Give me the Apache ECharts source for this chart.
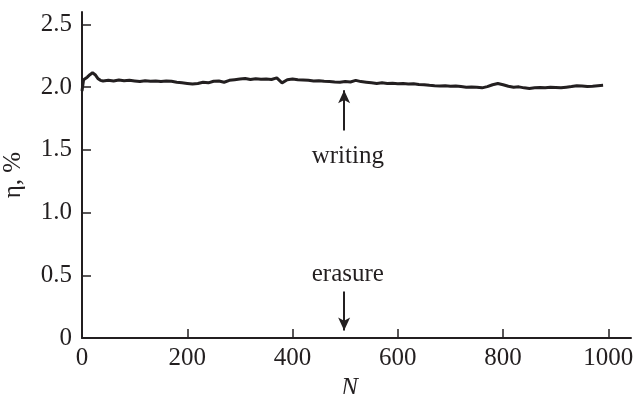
<!DOCTYPE html>
<html>
<head>
<meta charset="utf-8">
<script src="https://cdn.jsdelivr.net/npm/echarts@6/dist/echarts.min.js"></script>
<style>
  html, body { margin: 0; padding: 0; background: #fff; }
  #chart { width: 636px; height: 394px; }
</style>
</head>
<body>
<div id="chart"></div>
<script>
// Diffraction efficiency over repeated writing/erasure cycles
const cycleN = [0, 3, 10, 15, 20, 25, 30, 35, 40, 50, 60, 70, 80, 90, 100, 110, 120, 130, 140, 150,
  160, 170, 180, 190, 200, 210, 220, 230, 240, 250, 260, 270, 280, 290, 300, 310, 320, 330, 340, 350,
  360, 370, 380, 390, 400, 410, 420, 430, 440, 450, 460, 470, 480, 490, 500, 510, 520, 530, 540, 550,
  560, 570, 580, 590, 600, 610, 620, 630, 640, 650, 660, 670, 680, 690, 700, 710, 720, 730, 740, 750,
  760, 770, 780, 790, 800, 810, 820, 830, 840, 850, 860, 870, 880, 890, 900, 910, 920, 930, 940, 950,
  960, 970, 980, 990];
const eta = [1.97, 2.06, 2.08, 2.10, 2.115, 2.10, 2.07, 2.055, 2.05, 2.055, 2.05, 2.058, 2.052, 2.055, 2.05, 2.045, 2.052, 2.048, 2.05, 2.045,
  2.05, 2.047, 2.04, 2.035, 2.03, 2.025, 2.03, 2.04, 2.035, 2.048, 2.05, 2.04, 2.055, 2.06, 2.065, 2.07, 2.062, 2.068, 2.063, 2.065,
  2.062, 2.075, 2.035, 2.06, 2.065, 2.06, 2.058, 2.055, 2.05, 2.052, 2.048, 2.045, 2.042, 2.04, 2.045, 2.042, 2.055, 2.045, 2.04, 2.035,
  2.03, 2.035, 2.03, 2.032, 2.028, 2.03, 2.025, 2.028, 2.022, 2.02, 2.015, 2.012, 2.01, 2.012, 2.008, 2.01, 2.005, 2.0, 2.002, 2.0,
  1.995, 2.005, 2.02, 2.03, 2.02, 2.008, 2.0, 2.003, 1.995, 1.99, 1.995, 1.998, 1.995, 2.0, 1.998, 1.995, 2.0, 2.005, 2.012, 2.01,
  2.005, 2.008, 2.012, 2.015];

const xTicks = [0, 200, 400, 600, 800, 1000];
const yTicks = [0, 0.5, 1.0, 1.5, 2.0, 2.5];

const ink = '#231f20';
const serif = '"Liberation Serif", "DejaVu Serif", serif';
const fs = 25;

const chart = echarts.init(document.getElementById('chart'), null, { renderer: 'canvas' });

chart.setOption({
  animation: false,
  backgroundColor: '#fff',
  grid: { left: 82, right: 5, top: 12, bottom: 56, containLabel: false, outerBoundsMode: 'none' },
  xAxis: {
    type: 'value',
    min: 0,
    max: 1043,
    name: 'N',
    nameLocation: 'middle',
    nameGap: 35,
    nameTextStyle: { fontFamily: serif, fontStyle: 'italic', fontSize: fs, color: ink, padding: [0, 14, 0, 0] },
    axisLine: { show: true, lineStyle: { color: ink, width: 2 } },
    axisTick: { show: true, inside: true, length: 9, customValues: xTicks, lineStyle: { color: ink, width: 1.5 } },
    axisLabel: {
      customValues: xTicks, margin: 8, fontFamily: serif, fontSize: fs, color: ink,
      formatter: v => String(v)
    },
    splitLine: { show: false }
  },
  yAxis: {
    type: 'value',
    min: 0,
    max: 2.6,
    name: 'η, %',
    nameLocation: 'middle',
    nameGap: 56,
    nameTextStyle: { fontFamily: serif, fontSize: fs, color: ink },
    axisLine: { show: true, lineStyle: { color: ink, width: 2 } },
    axisTick: { show: true, inside: true, length: 9, customValues: yTicks, lineStyle: { color: ink, width: 1.5 } },
    axisLabel: {
      customValues: yTicks, margin: 10, fontFamily: serif, fontSize: fs, color: ink,
      formatter: v => (v === 0 ? '0' : v.toFixed(1))
    },
    splitLine: { show: false }
  },
  series: [{
    type: 'line',
    data: cycleN.map((n, i) => [n, eta[i]]),
    showSymbol: false,
    symbol: 'none',
    lineStyle: { color: ink, width: 3 },
    silent: true,
    markLine: {
      silent: true,
      symbol: ['none', 'arrow'],
      symbolSize: [9, 13],
      label: { show: false },
      lineStyle: { color: ink, width: 2, type: 'solid' },
      data: [
        [{ coord: [498, 1.655] }, { coord: [498, 1.975] }],
        [{ coord: [498, 0.37] }, { coord: [498, 0.06] }]
      ]
    },
    markPoint: {
      silent: true,
      symbol: 'circle',
      symbolSize: 0,
      label: { show: true, position: 'inside', formatter: '{b}', fontFamily: serif, fontSize: fs, color: ink },
      data: [
        { name: 'writing', coord: [505, 1.45] },
        { name: 'erasure', coord: [505, 0.505] }
      ]
    }
  }]
});
</script>
</body>
</html>
